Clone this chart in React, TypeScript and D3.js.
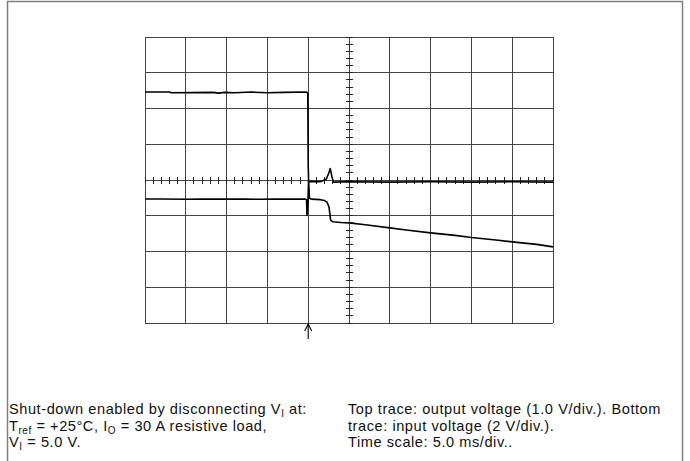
import * as d3 from 'd3'

// scope settings
const TIME_PER_DIV = 5.0 // ms
const CH1_PER_DIV = 1.0 // V, output voltage
const CH2_PER_DIV = 2.0 // V, input voltage
const CH1_GROUND_DIV = 0 // trace ground position, divisions from centre
const CH2_GROUND_DIV = -3

// output voltage [ms, V]
const outputTrace: [number, number][] = [
  [0, 2.46], [3, 2.46], [3.2, 2.44], [8.3, 2.45], [9, 2.43], [9.8, 2.45], [11, 2.44],
  [13, 2.46], [15, 2.44], [17, 2.45], [19.8, 2.46], [19.95, 2.42], [20.0, 0.45],
  [20.05, -0.05], [20.4, -0.04], [21.5, -0.05], [22.2, 0.02], [22.5, 0.18], [22.7, 0.32],
  [22.9, 0.1], [23.1, -0.06], [25, -0.05], [30, -0.06], [35, -0.05], [40, -0.06],
  [45, -0.05], [50, -0.06],
]

// input voltage [ms, V]
const inputTrace: [number, number][] = [
  [0, 4.94], [2, 4.94], [5, 4.92], [7, 4.94], [10, 4.93], [12, 4.94], [14, 4.92],
  [16, 4.93], [19.6, 4.93], [19.8, 4.9], [19.85, 4.02], [19.95, 4.6], [20.05, 5.95],
  [20.15, 4.98], [20.4, 4.93], [21.5, 4.9], [22.0, 4.85], [22.3, 4.76], [22.55, 4.5],
  [22.75, 3.75], [23.0, 3.66], [24, 3.62], [25, 3.6], [27, 3.5], [30, 3.32],
  [32, 3.2], [35, 3.04], [38, 2.9], [40, 2.78], [43, 2.64], [45, 2.54], [48, 2.4],
  [50, 2.26],
]

const TRIGGER_MS = 20

const captionLeft = [
  [['Shut-down enabled by disconnecting V', ''], ['I', 'sub'], [' at:', '']],
  [['T', ''], ['ref', 'sub'], [' = +25°C, I', ''], ['O', 'sub'], [' = 30 A resistive load,', '']],
  [['V', ''], ['I', 'sub'], [' = 5.0 V.', '']],
]
const captionRight = [
  'Top trace: output voltage (1.0 V/div.). Bottom',
  'trace: input voltage (2 V/div.).',
  'Time scale: 5.0 ms/div..',
]

const W = 690
const H = 461
const plot = { left: 145, right: 553, top: 37, bottom: 323 }
const NX = 10
const NY = 8

export default function App() {
  const x = d3.scaleLinear().domain([0, NX * TIME_PER_DIV]).range([plot.left, plot.right])
  const yDiv = d3.scaleLinear().domain([-NY / 2, NY / 2]).range([plot.bottom, plot.top])
  const cx = x(NX * TIME_PER_DIV / 2)
  const cy = yDiv(0)

  const line1 = d3
    .line<[number, number]>()
    .x((d) => x(d[0]))
    .y((d) => yDiv(d[1] / CH1_PER_DIV + CH1_GROUND_DIV))
  const line2 = d3
    .line<[number, number]>()
    .x((d) => x(d[0]))
    .y((d) => yDiv(d[1] / CH2_PER_DIV + CH2_GROUND_DIV))

  const vGrid = d3.range(NX + 1).map((i) => x(i * TIME_PER_DIV))
  const hGrid = d3.range(NY + 1).map((i) => yDiv(i - NY / 2))
  const xMinor = d3.range(NX * 5 + 1).map((i) => x((i * TIME_PER_DIV) / 5))
  const yMinor = d3.range(NY * 5 + 1).map((i) => yDiv(i / 5 - NY / 2))

  const ax = x(TRIGGER_MS)
  const font = 'Liberation Sans, Arial, Helvetica, sans-serif'

  return (
    <svg
      width={W}
      height={H}
      style={{ position: 'absolute', left: 0, top: 0, background: '#fff' }}
    >
      <path d={`M7.5,${H} V1.5 H682.5 V${H}`} fill="none" stroke="#808080" strokeWidth={1.5} />

      <g stroke="#444" strokeWidth={1} shapeRendering="crispEdges">
        {vGrid.map((v, i) => (
          <line key={'v' + i} x1={v} x2={v} y1={plot.top} y2={plot.bottom} />
        ))}
        {hGrid.map((v, i) => (
          <line key={'h' + i} x1={plot.left} x2={plot.right} y1={v} y2={v} />
        ))}
      </g>

      <g stroke="#222" strokeWidth={1} shapeRendering="crispEdges">
        {xMinor.map((v, i) => (
          <line key={'xm' + i} x1={v} x2={v} y1={cy - 3.5} y2={cy + 3.5} />
        ))}
        {yMinor.map((v, i) => (
          <line key={'ym' + i} x1={cx - 3.5} x2={cx + 3.5} y1={v} y2={v} />
        ))}
      </g>

      <path d={line1(outputTrace) ?? ''} fill="none" stroke="#000" strokeWidth={1.6} strokeLinejoin="round" />
      <path d={line2(inputTrace) ?? ''} fill="none" stroke="#000" strokeWidth={1.6} strokeLinejoin="round" />

      <g stroke="#000" strokeWidth={1.1} fill="none">
        <line x1={ax} x2={ax} y1={plot.bottom} y2={plot.bottom + 16} />
        <path d={`M${ax - 3.5},${plot.bottom + 8} L${ax},${plot.bottom + 1} L${ax + 3.5},${plot.bottom + 8}`} />
      </g>

      <g fontFamily={font} fontSize={14.6} letterSpacing={0.55} fill="#111">
        {captionLeft.map((parts, i) => (
          <text key={'l' + i} x={9} y={414 + i * 16.5}>
            {parts.map(([s, kind], j) =>
              kind === 'sub' ? (
                <tspan key={j} fontSize={10} dy={3}>
                  {s}
                </tspan>
              ) : (
                <tspan key={j} dy={j > 0 && parts[j - 1][1] === 'sub' ? -3 : 0}>
                  {s}
                </tspan>
              ),
            )}
          </text>
        ))}
        {captionRight.map((s, i) => (
          <text key={'r' + i} x={348} y={414 + i * 16.5}>
            {s}
          </text>
        ))}
      </g>
    </svg>
  )
}
